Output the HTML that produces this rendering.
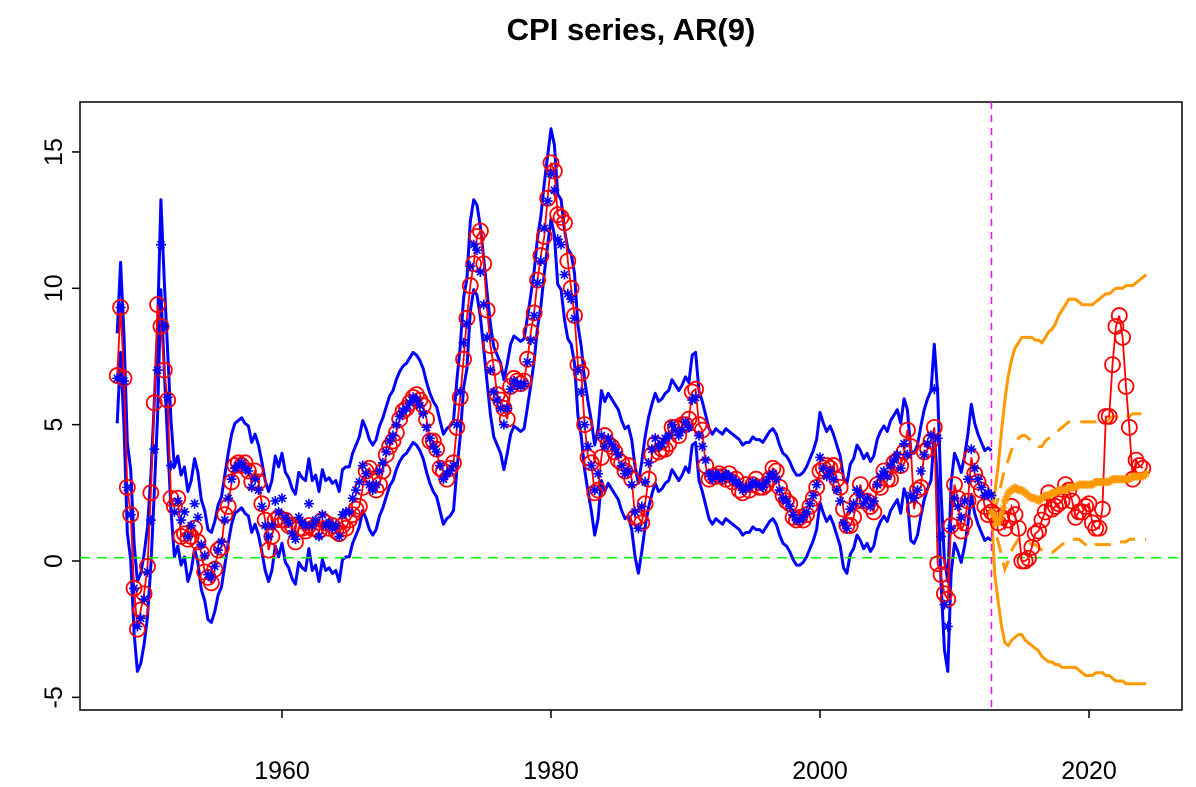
<!DOCTYPE html>
<html><head><meta charset="utf-8"><style>
html,body{margin:0;padding:0;background:#fff;}
svg{display:block;font-family:"Liberation Sans",Arial,sans-serif;}
</style></head><body>
<svg id="chart" width="1196" height="787" viewBox="0 0 1196 787" xmlns="http://www.w3.org/2000/svg">
<text x="631" y="40" text-anchor="middle" font-size="31" font-weight="bold">CPI series, AR(9)</text>
<rect x="80" y="102" width="1102" height="608" fill="none" stroke="#000" stroke-width="1.5"/>
<g id="layer"></g>
</svg>
<script>
const startYear = 1947.75;
const actual = [6.8,
9.3,6.7,2.7,1.7, -1.0,-2.5,-1.8,-1.2, -0.2,2.5,5.8,9.4, 8.6,7.0,5.9,2.3,
2.0,2.3,0.9,1.0, 0.8,0.9,1.2,0.7, 0.3,-0.4,-0.6,-0.8, -0.3,0.4,0.5,1.7,
2.0,2.9,3.5,3.6, 3.5,3.6,3.3,2.9, 3.3,2.9,2.1,1.5, 0.4,0.9,1.5,1.6,
1.5,1.5,1.3,1.3, 0.7,1.2,1.2,1.1, 1.3,1.2,1.2,1.1, 1.5,1.4,1.2,1.3,
1.1,1.0,1.3,1.2, 1.5,1.7,1.9,2.0, 2.7,3.3,3.4,3.0, 2.6,2.8,3.3,3.9,
4.2,4.4,4.7,5.2, 5.5,5.6,5.8,6.0, 6.1,5.9,5.7,5.2, 4.4,4.4,4.1,3.4,
3.3,3.0,3.4,3.6, 4.9,6.0,7.4,8.9, 10.1,10.9,11.9,12.1, 10.9,9.2,7.9,7.1,
6.1,5.9,5.6,5.2, 6.4,6.7,6.6,6.5, 6.6,7.4,8.4,9.1, 10.3,11.2,11.9,13.3,
14.6,14.3,12.7,12.6, 12.4,11.0,10.0,9.0, 7.2,6.9,5.0,3.8, 3.6,2.5,2.6,3.8,
4.6,4.3,4.2,4.0, 3.7,3.6,3.3,3.5, 3.0,1.6,1.6,1.4, 2.1,3.0,3.9,4.3,
4.0,4.1,4.1,4.3, 4.9,4.9,4.6,5.0, 5.0,5.2,6.2,6.3, 5.0,4.8,3.5,3.0,
3.1,3.1,3.2,3.1, 3.0,3.2,2.9,3.0, 2.6,2.5,2.8,2.6, 2.8,3.0,2.7,2.7,
2.8,3.0,3.4,3.3, 2.7,2.4,2.2,2.1, 1.6,1.5,1.6,1.5, 1.7,2.0,2.3,2.7,
3.3,3.4,3.5,3.4, 3.5,3.0,2.7,1.9, 1.3,1.3,1.6,2.2, 2.8,2.2,2.2,2.0,
1.8,2.8,2.7,3.3, 3.0,3.0,3.6,3.7, 3.5,4.0,4.8,4.2, 1.9,2.6,2.7,4.0,
4.1,4.4,4.9,-0.1, -0.5,-1.2,-1.4,1.3, 2.8,2.3,1.1,1.4, 2.2,3.8,3.2,2.9,
2.6,2.0,1.7,1.8,
1.7,1.4,1.6,1.2, 1.5,2.0,1.7,1.2, 0.0,0.0,0.1,0.5, 1.0,1.1,1.5,1.8,
2.5,1.9,2.0,2.1, 2.2,2.8,2.6,2.2, 1.6,1.8,1.8,2.0, 2.1,1.4,1.2,1.2,
1.9,5.3,5.3,7.2, 8.6,9.0,8.2,6.4, 4.9,3.0,3.7,3.5, 3.4];
const fitted = [6.7,
9.3,6.6,2.7,1.7, -1.0,-2.4,-2.1,-1.4, -0.4,1.5,4.1,7.0, 11.6,8.6,6.0,3.5,
1.8,2.2,1.5,1.8, 0.9,1.3,2.1,1.6, 0.6,0.2,-0.5,-0.6, -0.2,0.4,0.7,1.5,
2.3,3.0,3.4,3.5, 3.6,3.4,3.3,2.7, 3.0,2.6,2.0,1.3, 0.9,1.3,2.2,1.8,
2.3,1.6,1.4,1.0, 0.8,1.6,1.4,1.3, 2.1,1.3,1.5,0.9, 1.7,1.3,1.4,1.2,
1.3,0.9,1.7,1.8, 1.8,2.3,2.6,2.9, 3.5,3.2,2.8,2.6, 2.8,3.3,3.6,4.0,
4.4,4.6,5.0,5.3, 5.5,5.6,5.8,6.0, 5.9,5.7,5.4,4.9, 4.5,4.2,4.0,3.5,
3.0,3.2,3.3,3.5, 5.0,6.2,8.0,8.7, 10.8,11.6,11.4,10.6, 9.4,8.2,7.0,6.2,
5.9,5.6,5.0,5.6, 6.3,6.6,6.5,6.4, 6.5,7.3,8.1,9.0, 10.2,11.0,12.2,13.2,
14.2,13.6,11.8,11.6, 10.5,9.8,9.6,8.9, 7.0,6.2,5.0,4.2, 3.5,2.6,3.2,4.6,
4.2,4.5,4.3,4.1, 3.9,3.5,3.2,3.3, 2.8,1.8,1.2,2.0, 2.9,3.6,4.1,4.5,
4.2,4.3,4.5,4.6, 5.0,4.8,4.6,4.8, 5.1,4.9,5.9,6.0, 4.6,4.2,3.7,3.2,
3.0,3.2,3.1,3.0, 3.2,3.1,3.0,2.9, 2.8,2.6,2.7,2.7, 2.9,2.8,2.8,2.7,
2.9,3.1,3.2,3.0, 2.6,2.3,2.2,2.0, 1.7,1.5,1.5,1.6, 1.8,2.1,2.4,2.8,
3.8,3.4,3.1,3.3, 3.0,2.6,2.2,1.4, 1.2,1.9,2.1,2.6, 2.4,2.1,2.3,2.0,
2.2,2.8,3.1,3.3, 3.1,3.5,3.7,3.9, 3.4,4.3,3.9,2.4, 2.3,2.6,3.3,3.9,
4.3,4.6,6.3,4.5, 0.9,-1.6,-2.4,1.2, 2.3,2.0,1.6,2.2, 3.0,4.1,3.4,3.0,
2.7,2.4,2.5,2.4];
const bandHalfWidth = 1.65;
const fcStart = 2012.75;
const fcMean = [1.8, 1.6,1.4,1.7,2.2, 2.5,2.6,2.7,2.6, 2.6,2.5,2.4,2.3, 2.3,2.2,2.3,2.4,
2.4,2.5,2.5,2.6, 2.6,2.6,2.7,2.7, 2.7,2.8,2.8,2.8, 2.8,2.8,2.9,2.9,
2.9,2.9,2.9,3.0, 3.0,3.0,3.0,3.0, 3.0,3.1,3.1,3.1, 3.1,3.2];
const fcInnerUpper = [1.8, 1.9,2.3,2.9,3.4, 3.7,4.1,4.3,4.5, 4.6,4.6,4.5,4.4, 4.3,4.2,4.2,4.4,
4.5,4.6,4.7,4.8, 4.9,5.0,5.1,5.1, 5.1,5.1,5.1,5.1, 5.1,5.1,5.1,5.2,
5.2,5.1,5.2,5.3, 5.3,5.2,5.3,5.3, 5.3,5.4,5.4,5.4, 5.4,5.5];
const fcInnerLower = [1.8, 1.2,0.7,0.2,-0.3, 0.0,0.4,0.6,0.8, 0.8,0.8,0.7,0.6, 0.6,0.5,0.4,0.3,
0.3,0.3,0.4,0.5, 0.6,0.7,0.8,0.8, 0.8,0.8,0.7,0.6, 0.5,0.5,0.6,0.6,
0.6,0.6,0.6,0.6, 0.7,0.7,0.7,0.7, 0.8,0.8,0.8,0.8, 0.8,0.8];
const fcOuterUpper = [1.8, 2.5,3.5,4.8,5.9, 6.8,7.4,7.8,8.0, 8.2,8.2,8.2,8.2, 8.1,8.1,8.0,8.2,
8.4,8.5,8.7,9.0, 9.2,9.4,9.6,9.6, 9.6,9.5,9.4,9.4, 9.4,9.4,9.5,9.6,
9.7,9.8,9.8,9.9, 10.0,10.0,10.0,10.1, 10.1,10.1,10.2,10.3, 10.4,10.5];
const fcOuterLower = [1.8, -0.5,-1.5,-2.4,-3.0, -3.1,-2.9,-2.8,-2.7, -2.7,-2.9,-3.0,-3.1, -3.2,-3.3,-3.5,-3.6,
-3.7,-3.7,-3.8,-3.8, -3.9,-3.9,-3.9,-3.9, -3.9,-4.0,-4.1,-4.2, -4.2,-4.2,-4.1,-4.1,
-4.1,-4.2,-4.2,-4.3, -4.4,-4.4,-4.4,-4.5, -4.5,-4.5,-4.5,-4.5, -4.5,-4.5];
const xTicks = [1960,1980,2000,2020];
const yTicks = [-5,0,5,10,15];
const meanLine = 0.12;
const splitYear = 2012.75;

const NS = "http://www.w3.org/2000/svg";
const layer = document.getElementById('layer');
function xs(yr){ return 282 + (yr-1960)*13.45; }
function ys(v){ return 561 - v*27.27; }
function mk(tag, attrs){ const e=document.createElementNS(NS,tag); for(const k in attrs) e.setAttribute(k,attrs[k]); layer.appendChild(e); return e; }
function pathFrom(arr, start){ return arr.map((v,i)=>(i?'L':'M')+xs(start+i*0.25).toFixed(1)+' '+ys(v).toFixed(1)).join(' '); }

xTicks.forEach(t=>{
  const l=mk('line',{x1:xs(t),x2:xs(t),y1:710,y2:718,stroke:'#000','stroke-width':1.5});
  
  
  const tx=mk('text',{x:xs(t),y:779,'text-anchor':'middle','font-size':25});
  tx.textContent=t;
  
  
});
yTicks.forEach(t=>{
  const l=mk('line',{x1:72,x2:80,y1:ys(t),y2:ys(t),stroke:'#000','stroke-width':1.5});
  
  
  const tx=mk('text',{x:0,y:0,'text-anchor':'middle','font-size':25,transform:'translate(62,'+ys(t)+') rotate(-90)'});
  tx.textContent=t;
  
  
});

const upper = fitted.map(v=>v+bandHalfWidth);
const lower = fitted.map(v=>v-bandHalfWidth);
[upper,lower].forEach((b,i)=>{
  const p=mk('path',{d:pathFrom(b,startYear),fill:'none',stroke:'#0000ff','stroke-width':3,'stroke-linejoin':'round'});
  
  
});
[[fcOuterUpper,'forecast-outer-upper',null],[fcOuterLower,'forecast-outer-lower',null],[fcInnerUpper,'forecast-inner-upper','16 10'],[fcInnerLower,'forecast-inner-lower','16 10']].forEach(s=>{
  const attrs={d:pathFrom(s[0],fcStart),fill:'none',stroke:'#ff9900','stroke-width':3};
  if(s[2]) attrs['stroke-dasharray']=s[2];
  const p=mk('path',attrs);
  
  
});
const g=mk('line',{x1:80,x2:1182,y1:ys(meanLine),y2:ys(meanLine),stroke:'#00ff00','stroke-width':1.5,'stroke-dasharray':'10 7'});


const vl=mk('line',{x1:xs(splitYear),x2:xs(splitYear),y1:102,y2:710,stroke:'#ff00ff','stroke-width':1.5,'stroke-dasharray':'7 6'});



const rl=mk('path',{d:pathFrom(actual,startYear),fill:'none',stroke:'#ff0000','stroke-width':1.8});


actual.forEach((v,i)=>{
  const c=mk('circle',{cx:xs(startYear+i*0.25),cy:ys(v),r:7.5,fill:'none',stroke:'#ff0000','stroke-width':1.8});
  
  
});
function star(x,y,r,col,w,name){
  const d=`M${x-r} ${y}L${x+r} ${y}M${x} ${y-r}L${x} ${y+r}M${x-r*0.7} ${y-r*0.7}L${x+r*0.7} ${y+r*0.7}M${x-r*0.7} ${y+r*0.7}L${x+r*0.7} ${y-r*0.7}`;
  const p=mk('path',{d:d,stroke:col,'stroke-width':w,fill:'none'});
  
  
}
fitted.forEach((v,i)=>star(xs(startYear+i*0.25),ys(v),5,'#0000ff',1.6,'fitted-point'));
fcMean.forEach((v,i)=>{
  star(xs(fcStart+i*0.25),ys(v),4,'#ff9900',1.5,'forecast-mean-point');
  if(i<fcMean.length-1){
    const m=(v+fcMean[i+1])/2;
    star(xs(fcStart+i*0.25+0.125),ys(m),4,'#ff9900',1.5,'forecast-mean-point');
  }
});
</script>
</body></html>
